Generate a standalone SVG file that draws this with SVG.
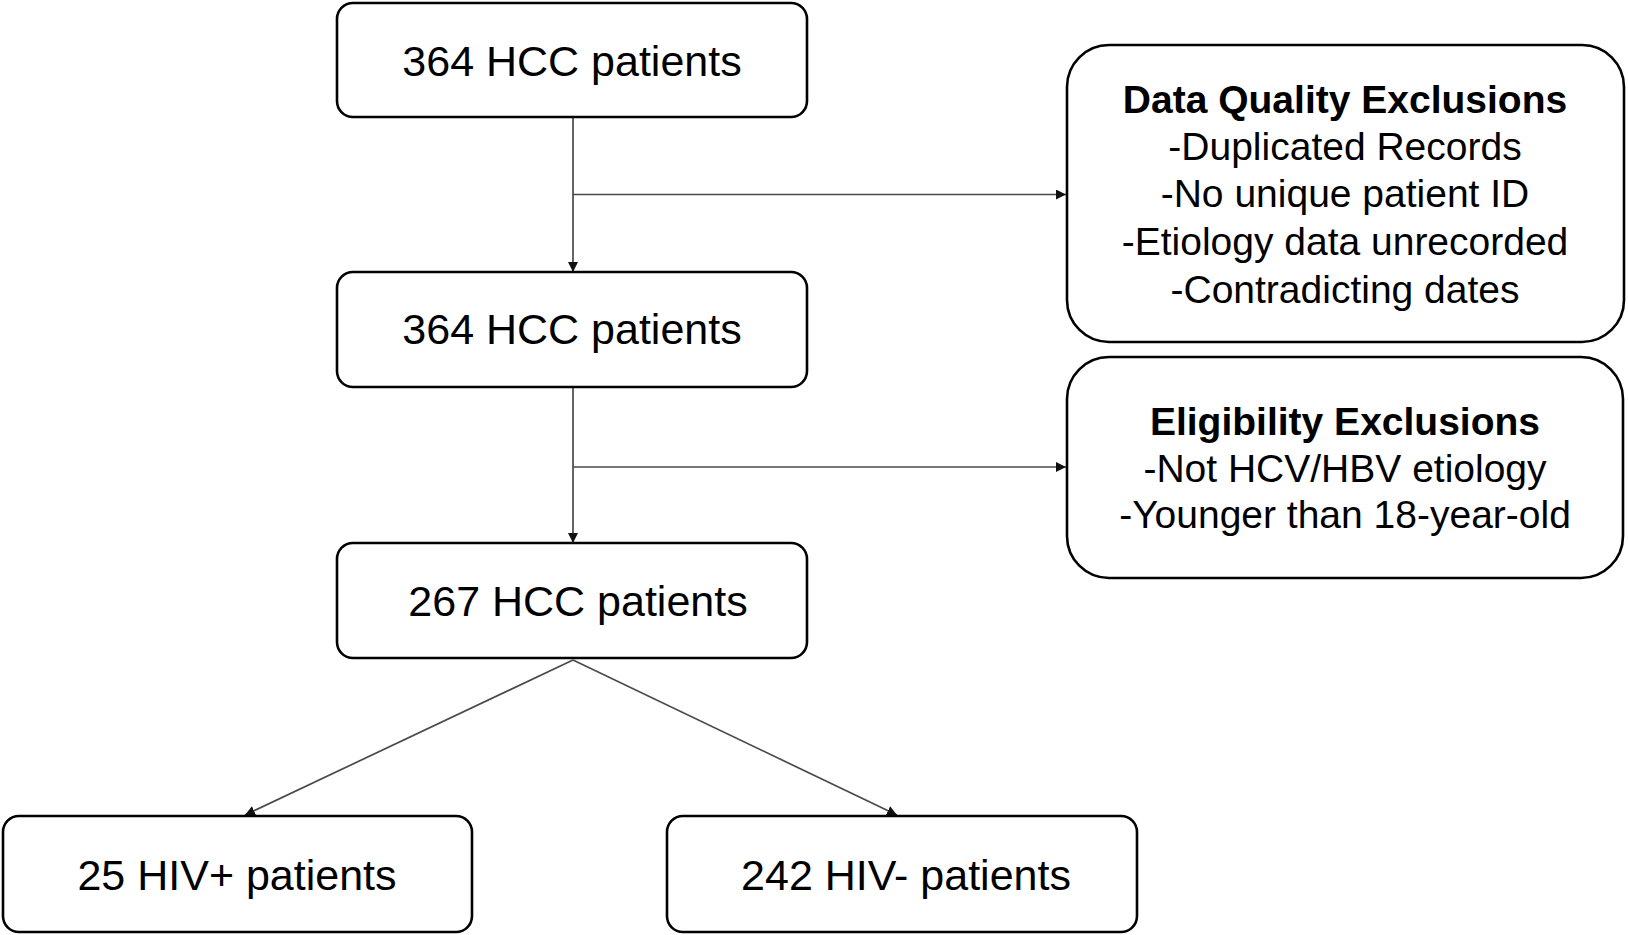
<svg xmlns="http://www.w3.org/2000/svg" width="1628" height="935" viewBox="0 0 1628 935">
<style>
.box{fill:#fff;stroke:#000;stroke-width:2.6}
.t{font-family:"Liberation Sans",Arial,sans-serif;fill:#000;text-anchor:middle}
.big{font-size:43px}
.mid{font-size:39px}
.b{font-weight:bold}
.ln{fill:none;stroke:#4a4a4a;stroke-width:1.7}
</style>
<defs>
<marker id="ah" viewBox="0 0 10 10" refX="10" refY="5" markerWidth="10" markerHeight="10" markerUnits="userSpaceOnUse" orient="auto">
<path d="M0,0 L10,5 L0,10 Z" fill="#111"/>
</marker>
</defs>
<rect width="1628" height="935" fill="#fff"/>
<g id="connectors">
<line class="ln" x1="573" y1="117" x2="573" y2="272" marker-end="url(#ah)"/>
<line class="ln" x1="573" y1="194.5" x2="1066" y2="194.5" marker-end="url(#ah)"/>
<line class="ln" x1="573" y1="387" x2="573" y2="543" marker-end="url(#ah)"/>
<line class="ln" x1="573" y1="467" x2="1066" y2="467" marker-end="url(#ah)"/>
<line class="ln" x1="573" y1="660" x2="245" y2="815" marker-end="url(#ah)"/>
<line class="ln" x1="573" y1="660" x2="897" y2="815" marker-end="url(#ah)"/>
</g>
<g id="n1">
<rect class="box" x="337" y="3" width="470" height="114" rx="16"/>
<text class="t big" x="572" y="76">364 HCC patients</text>
</g>
<g id="n2">
<rect class="box" x="337" y="272" width="470" height="115" rx="16"/>
<text class="t big" x="572" y="344">364 HCC patients</text>
</g>
<g id="n3">
<rect class="box" x="337" y="543" width="470" height="115" rx="16"/>
<text class="t big" x="578" y="616">267 HCC patients</text>
</g>
<g id="n4">
<rect class="box" x="3" y="816" width="469" height="116" rx="16"/>
<text class="t big" x="237" y="890">25 HIV+ patients</text>
</g>
<g id="n5">
<rect class="box" x="667" y="816" width="470" height="116" rx="16"/>
<text class="t big" x="906" y="890">242 HIV- patients</text>
</g>
<g id="ex1">
<rect class="box" x="1067" y="45" width="557" height="297" rx="42"/>
<text class="t mid b" x="1345" y="113">Data Quality Exclusions</text>
<text class="t mid" x="1345" y="160">-Duplicated Records</text>
<text class="t mid" x="1345" y="207">-No unique patient ID</text>
<text class="t mid" x="1345" y="255">-Etiology data unrecorded</text>
<text class="t mid" x="1345" y="303">-Contradicting dates</text>
</g>
<g id="ex2">
<rect class="box" x="1067" y="357" width="556" height="221" rx="42"/>
<text class="t mid b" x="1345" y="435">Eligibility Exclusions</text>
<text class="t mid" x="1345" y="482">-Not HCV/HBV etiology</text>
<text class="t mid" x="1345" y="528">-Younger than 18-year-old</text>
</g>
</svg>
